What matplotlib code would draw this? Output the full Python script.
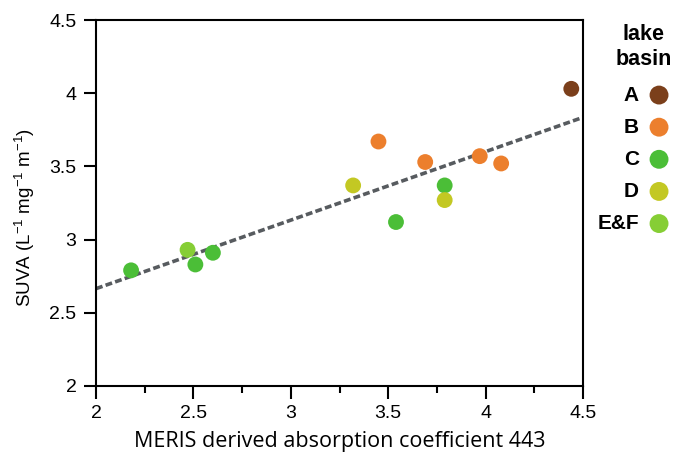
import numpy as np
import matplotlib
matplotlib.use('Agg')
import matplotlib.pyplot as plt

# data
basins = ['A', 'B', 'C', 'D', 'E&F']
colors = ['#7b3f1b', '#ec7f2d', '#4bbe37', '#c3c823', '#86ce35']
a443 = {
    'A': [4.44],
    'B': [3.45, 3.69, 3.97, 4.08],
    'C': [3.79, 3.54, 2.60, 2.51, 2.18],
    'D': [3.32, 3.79],
    'E&F': [2.47],
}
suva = {
    'A': [4.03],
    'B': [3.67, 3.53, 3.57, 3.52],
    'C': [3.37, 3.12, 2.91, 2.83, 2.79],
    'D': [3.37, 3.27],
    'E&F': [2.93],
}
fit_x = [2.0, 4.5]
fit_y = [2.665, 3.835]

plt.rcParams['font.family'] = ['Liberation Sans', 'DejaVu Sans']
plt.rcParams['mathtext.default'] = 'regular'

fig = plt.figure(figsize=(6.84, 4.57), dpi=100)
ax = fig.add_axes([0.1404, 0.1554, 0.7119, 0.8008])

ax.plot(fit_x, fit_y, ls=(0, (1.9, 0.9)), color='#575b5f', lw=2.6, zorder=2)
for b, c in zip(basins, colors):
    ax.scatter(a443[b], suva[b], s=130, color=c, edgecolors='none', zorder=3)

ax.set_xlim(2, 4.5)
ax.set_ylim(2, 4.5)
ax.set_xticks(np.arange(2, 4.51, 0.5))
ax.set_xticks(np.arange(2, 4.51, 0.25), minor=True)
ax.set_yticks(np.arange(2, 4.51, 0.5))
ax.set_xticklabels(['2', '2.5', '3', '3.5', '4', '4.5'])
ax.set_yticklabels(['2', '2.5', '3', '3.5', '4', '4.5'])
ax.tick_params(axis='both', which='major', direction='out', length=9, width=1.5,
               labelsize=14, pad=5)
ax.tick_params(axis='x', which='minor', direction='out', length=5, width=1.5)
for s in ax.spines.values():
    s.set_linewidth(1.5)

ax.set_xlabel('MERIS derived absorption coefficient 443', fontsize=15.5,
              family=['Open Sans', 'DejaVu Sans'], labelpad=6)
ax.set_ylabel(r'SUVA (L$^{-1}$ mg$^{-1}$ m$^{-1}$)', fontsize=13.5)
ax.yaxis.set_label_coords(-0.121, 0.46)

# legend drawn by hand on the right
fig.text(0.9415, 0.897, 'lake\nbasin', ha='center', va='center', fontsize=15.5,
         fontweight='bold', linespacing=1.2)
leg_y = 0.792 - np.arange(len(basins)) * 0.0703
for b, c, yy in zip(basins, colors, leg_y):
    fig.text(0.934, yy, b, ha='right', va='center', fontsize=15, fontweight='bold')
    ax.scatter([0.9635], [yy], s=185, color=c, edgecolors='none',
               transform=fig.transFigure, clip_on=False)

fig.savefig('out.png', dpi=100)
